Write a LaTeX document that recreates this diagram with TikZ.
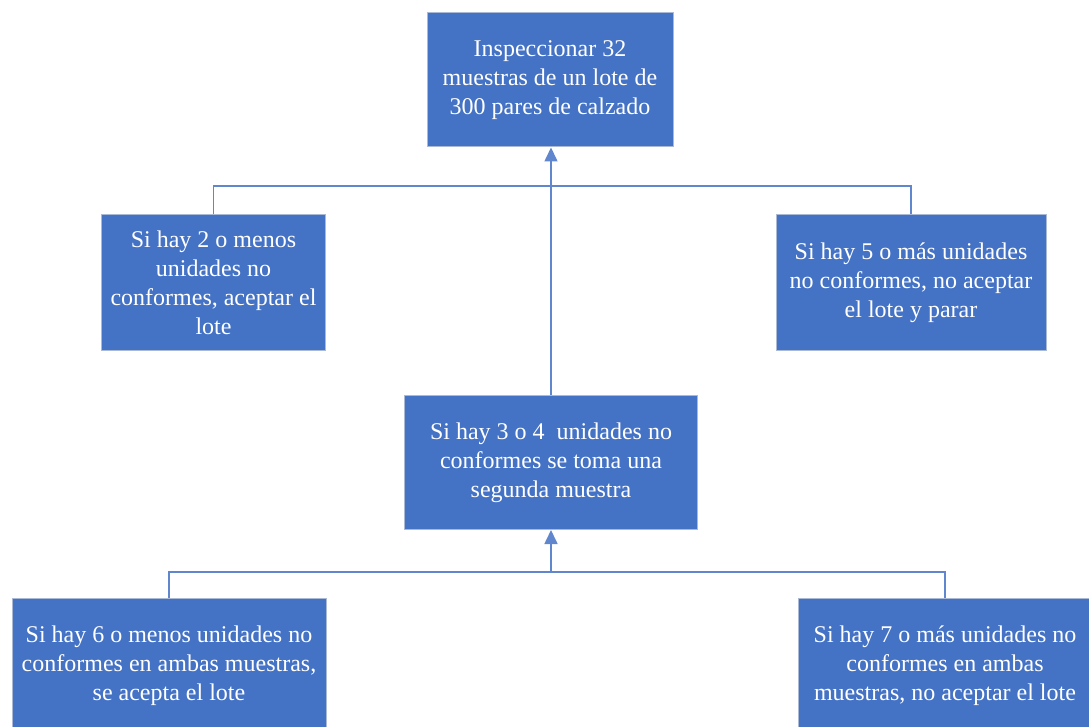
\documentclass[tikz,border=0pt]{standalone}
\usepackage{fontspec}
\setmainfont{Liberation Serif}
\usetikzlibrary{arrows.meta}
\definecolor{boxfill}{RGB}{68,114,196}
\definecolor{boxedge}{RGB}{170,186,214}
\definecolor{wire}{RGB}{96,134,206}
\tikzset{
  stepbox/.style={draw=boxedge, line width=1pt, fill=boxfill, text=white,
    align=center, inner sep=0pt, font=\fontsize{24}{29}\selectfont},
  wireline/.style={draw=wire, line width=1.6pt},
  arrowline/.style={wireline, -{Triangle[length=14pt,width=13pt]}}
}
\begin{document}
\begin{tikzpicture}[x=1pt,y=-1pt]
\useasboundingbox (0,0) rectangle (1089,727);
\fill[white] (0,0) rectangle (1089,727);

% top row
\node[stepbox, minimum width=246pt, minimum height=134pt] (top) at (550,80)
  {Inspeccionar 32\\muestras de un lote de\\300 pares de calzado};

% second row
\node[stepbox, minimum width=224pt, minimum height=135pt] (acc1) at (213.5,282.5)
  {Si hay 2 o menos\\unidades no\\conformes, aceptar el\\lote};
\node[stepbox, minimum width=270pt, minimum height=135pt] (rej1) at (911,282.5)
  {Si hay 5 o más unidades\\no conformes, no aceptar\\el lote y parar};

% middle
\node[stepbox, minimum width=293pt, minimum height=134pt] (mid) at (551,462.5)
  {Si hay 3 o 4 \ unidades no\\conformes se toma una\\segunda muestra};

% bottom row
\node[stepbox, minimum width=314pt, minimum height=136pt] (acc2) at (169,666)
  {Si hay 6 o menos unidades no\\conformes en ambas muestras,\\se acepta el lote};
\node[stepbox, minimum width=294pt, minimum height=136pt] (rej2) at (945,666)
  {Si hay 7 o más unidades no\\conformes en ambas\\muestras, no aceptar el lote};

% upper bracket
\coordinate (j1) at (551,186);
\draw[wireline] (acc1.north) |- (j1) -| (rej1.north);
\draw[arrowline] (mid.north) -- (top.south -| mid.north);

% lower bracket
\coordinate (j2) at (551,572);
\draw[wireline] (acc2.north) |- (j2) -| (rej2.north);
\draw[arrowline] (j2) -- (mid.south);
\end{tikzpicture}
\end{document}
